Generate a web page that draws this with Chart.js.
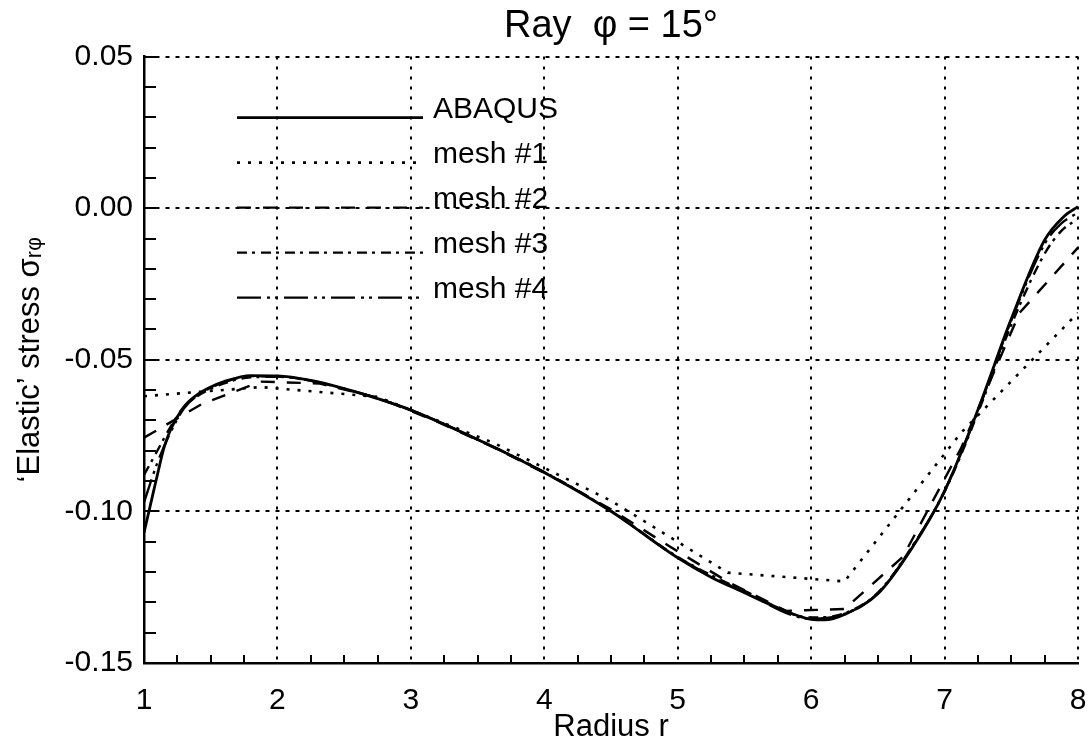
<!DOCTYPE html>
<html><head><meta charset="utf-8">
<script src="https://cdn.jsdelivr.net/npm/chart.js@4.4.0/dist/chart.umd.min.js"></script>
<style>html,body{margin:0;padding:0;background:#fff;}#wrap{width:1091px;height:744px;}</style>
</head><body><div id="wrap"><canvas id="c" width="1091" height="744"></canvas></div>
<script>
// ---- data ----
const xTicks = [1, 2, 3, 4, 5, 6, 7, 8];
const yTicks = [-0.15, -0.10, -0.05, 0.00, 0.05];
const seriesNames = ['ABAQUS', 'mesh #1', 'mesh #2', 'mesh #3', 'mesh #4'];

const abaqusR = [1, 1.05, 1.1, 1.15, 1.2, 1.3, 1.4, 1.5, 1.6, 1.8, 2, 2.25, 2.5, 2.75, 3, 3.5, 4, 4.5, 5, 5.25, 5.5, 5.75, 6, 6.1, 6.25, 6.5, 6.75, 7, 7.25, 7.5, 7.75, 7.9, 8];
const abaqusS = [-0.107, -0.0975, -0.0880, -0.0790, -0.0730, -0.0655, -0.0615, -0.0590, -0.0572, -0.0552, -0.0553, -0.0568, -0.0595, -0.0628, -0.0666, -0.0763, -0.0872, -0.1000, -0.1153, -0.1217, -0.1268, -0.1318, -0.1356, -0.1358, -0.1340, -0.1272, -0.1125, -0.0933, -0.0665, -0.0365, -0.0105, -0.0025, 0.0005];

const mesh1R = [1, 1.875, 2.75, 3.625, 4.5, 5.375, 6.25, 7.125, 8];
const mesh1S = [-0.062, -0.059, -0.0622, -0.0775, -0.0965, -0.1202, -0.1231, -0.0740, -0.0345];

const mesh2R = [1, 1.4375, 1.875, 2.3125, 2.75, 3.1875, 3.625, 4.0625, 4.5, 4.9375, 5.375, 5.8125, 6.25, 6.6875, 7.125, 7.5625, 8];
const mesh2S = [-0.0757, -0.0645, -0.0572, -0.0578, -0.0625, -0.0702, -0.0790, -0.0887, -0.0993, -0.1115, -0.1232, -0.1328, -0.1322, -0.1150, -0.0790, -0.0345, -0.0130];

const mesh3R = [1, 1.1, 1.2, 1.3, 1.4, 1.6, 1.8, 2, 2.5, 3, 3.5, 4, 4.5, 5, 5.5, 6, 6.25, 6.5, 6.75, 7, 7.25, 7.5, 7.75, 7.875, 8];
const mesh3S = [-0.088, -0.0800, -0.0720, -0.0655, -0.0620, -0.0578, -0.0558, -0.0556, -0.0596, -0.0666, -0.0763, -0.0870, -0.0998, -0.1150, -0.1262, -0.1350, -0.1336, -0.1268, -0.1120, -0.0935, -0.0675, -0.0385, -0.0150, -0.0075, -0.0035];

const mesh4R = [1, 1.1, 1.2, 1.3, 1.4, 1.6, 1.8, 2, 2.5, 3, 3.5, 4, 4.5, 5, 5.5, 6, 6.25, 6.5, 6.75, 7, 7.25, 7.5, 7.75, 7.875, 8];
const mesh4S = [-0.097, -0.0840, -0.0738, -0.0660, -0.0618, -0.0574, -0.0554, -0.0555, -0.0595, -0.0666, -0.0763, -0.0871, -0.0999, -0.1152, -0.1266, -0.1354, -0.1338, -0.1270, -0.1122, -0.0932, -0.0668, -0.0370, -0.0118, -0.0050, -0.0015];

// ---- helpers ----
const FONT = "'Liberation Sans', Arial, Helvetica, sans-serif";
const pts = (R, S) => R.map((r, i) => ({ x: r, y: S[i] }));

const styles = [
  { dash: [], width: 2.8, smooth: true },
  { dash: [3, 8], width: 2.6, smooth: false },
  { dash: [14, 12], width: 2.4, smooth: false },
  { dash: [10, 5, 3, 6], width: 2.4, smooth: true },
  { dash: [24, 6, 3, 5, 3, 6], width: 2.4, smooth: true }
];
const seriesData = [pts(abaqusR, abaqusS), pts(mesh1R, mesh1S), pts(mesh2R, mesh2S), pts(mesh3R, mesh3S), pts(mesh4R, mesh4S)];

const datasets = seriesNames.map((name, i) => ({
  label: name,
  data: seriesData[i],
  showLine: true,
  borderColor: '#000',
  backgroundColor: '#000',
  borderWidth: styles[i].width,
  borderDash: styles[i].dash,
  pointRadius: 0,
  fill: false,
  tension: 0,
  cubicInterpolationMode: styles[i].smooth ? 'monotone' : 'default'
}));

const minorTicks = {
  id: 'minorTicks',
  afterDraw(chart) {
    const { ctx, chartArea: a, scales: { x, y } } = chart;
    ctx.save();
    ctx.strokeStyle = '#000';
    ctx.lineWidth = 2;
    ctx.setLineDash([]);
    ctx.beginPath();
    for (let i = 0; i <= 20; i++) {
      const py = Math.round(y.getPixelForValue(-0.15 + i * 0.01));
      ctx.moveTo(a.left, py); ctx.lineTo(a.left + 12, py);
    }
    for (let i = 1; i < 28; i++) {
      if (i % 4 === 0) continue;
      const px = Math.round(x.getPixelForValue(1 + i * 0.25));
      ctx.moveTo(px, a.bottom); ctx.lineTo(px, a.bottom - 8);
    }
    ctx.stroke();
    ctx.restore();
  }
};

const insetLegend = {
  id: 'insetLegend',
  afterDatasetsDraw(chart) {
    const { ctx, chartArea: a } = chart;
    chart.data.datasets.forEach((ds, i) => {
      const yy = a.top + 61 + i * 45;
      ctx.save();
      ctx.strokeStyle = '#000';
      ctx.lineWidth = ds.borderWidth;
      ctx.setLineDash(ds.borderDash || []);
      ctx.beginPath();
      ctx.moveTo(a.left + 93, yy); ctx.lineTo(a.left + 279, yy);
      ctx.stroke();
      ctx.setLineDash([]);
      ctx.fillStyle = '#000';
      ctx.font = '30px ' + FONT;
      ctx.textBaseline = 'alphabetic';
      ctx.textAlign = 'left';
      ctx.fillText(ds.label, a.left + 289, yy);
      ctx.restore();
    });
  }
};

new Chart(document.getElementById('c'), {
  type: 'scatter',
  data: { datasets },
  plugins: [minorTicks, insetLegend],
  options: {
    responsive: false,
    animation: false,
    devicePixelRatio: 1,
    layout: { padding: { left: 0, right: 0, top: 0, bottom: 0 } },
    plugins: {
      legend: { display: false },
      tooltip: { enabled: false },
      title: {
        display: true,
        text: 'Ray  φ = 15°',
        color: '#000',
        fullSize: false,
        font: { family: FONT, size: 38, weight: 'normal' },
        padding: { top: 4, bottom: 7 }
      }
    },
    scales: {
      x: {
        type: 'linear',
        min: 1, max: 8,
        afterBuildTicks: s => { s.ticks = xTicks.map(v => ({ value: v })); },
        afterFit: s => { s.height = 81; s.paddingRight = 13; },
        ticks: { color: '#000', font: { family: FONT, size: 30 }, padding: 20, maxRotation: 0, autoSkip: false, callback: v => String(v) },
        grid: {
          drawTicks: false,
          lineWidth: 2,
          color: c => (c.tick && c.tick.value === 1) ? 'rgba(0,0,0,0)' : '#000'
        },
        border: { display: true, color: '#000', width: 2.5, dash: [3, 7] },
        title: { display: true, text: 'Radius r', color: '#000', font: { family: FONT, size: 31, lineHeight: 1.0 }, padding: { top: 0, bottom: 1 } }
      },
      y: {
        type: 'linear',
        min: -0.15, max: 0.05,
        afterBuildTicks: s => { s.ticks = yTicks.map(v => ({ value: v })); },
        afterFit: s => { s.width = 144; },
        ticks: { color: '#000', font: { family: FONT, size: 30 }, padding: 11, autoSkip: false, callback: v => v.toFixed(2) },
        grid: {
          drawTicks: false,
          lineWidth: 2,
          color: c => (c.tick && Math.abs(c.tick.value + 0.15) < 1e-9) ? 'rgba(0,0,0,0)' : '#000'
        },
        border: { display: true, color: '#000', width: 2.5, dash: [4, 6] },
        title: { display: true, text: '‘Elastic’ stress σᵣᵩ', color: '#000', font: { family: FONT, size: 31 }, padding: { top: 12, bottom: 0 } }
      }
    }
  }
});
</script>
</body></html>
